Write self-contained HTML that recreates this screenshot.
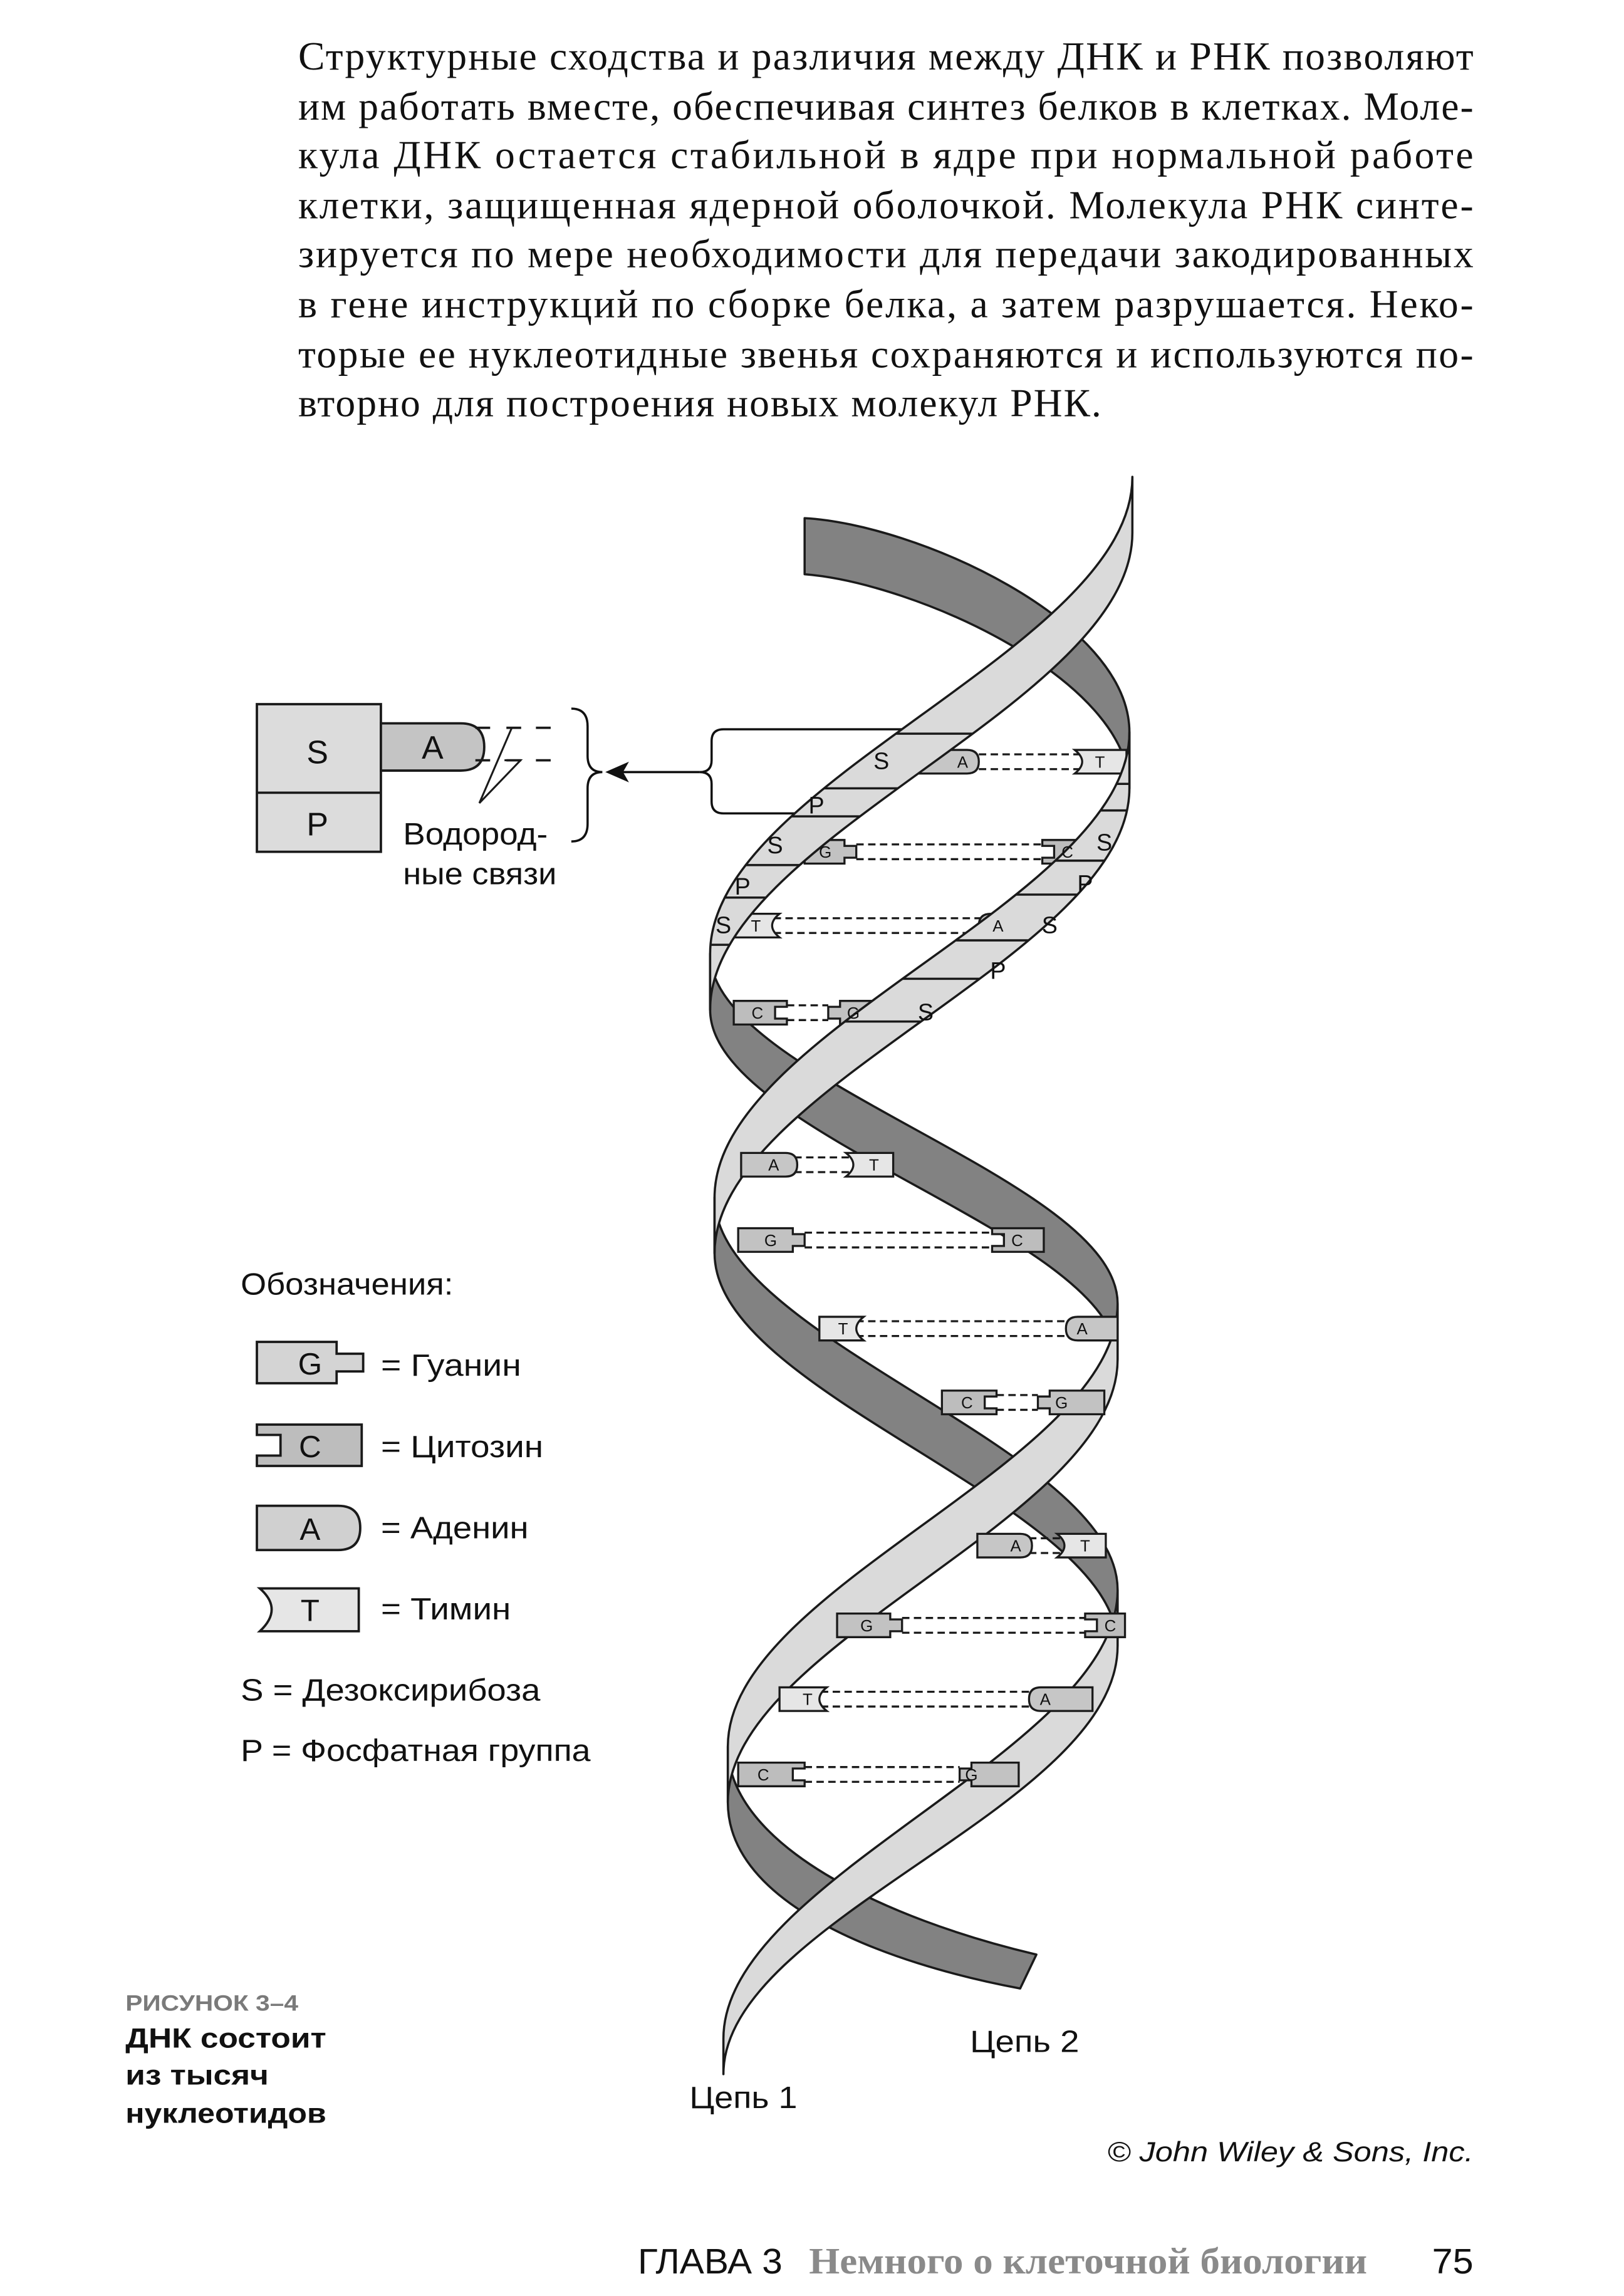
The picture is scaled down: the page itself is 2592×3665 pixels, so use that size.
<!DOCTYPE html>
<html><head><meta charset="utf-8"><style>
html,body{margin:0;padding:0;background:#fff}
svg{display:block}
.s{font-family:"Liberation Sans",sans-serif;fill:#111}
.sr{font-family:"Liberation Serif",serif;fill:#111}
</style></head><body>
<svg width="2592" height="3665" viewBox="0 0 1100 1555.3" preserveAspectRatio="none" xmlns="http://www.w3.org/2000/svg">
<rect width="1100" height="1556" fill="#fff"/>
<g class="sr" font-size="27">
<text x="202" y="47" textLength="796" lengthAdjust="spacing">Структурные сходства и различия между ДНК и РНК позволяют</text>
<text x="202" y="81" textLength="796" lengthAdjust="spacing">им работать вместе, обеспечивая синтез белков в клетках. Моле-</text>
<text x="202" y="114" textLength="796" lengthAdjust="spacing">кула ДНК остается стабильной в ядре при нормальной работе</text>
<text x="202" y="148" textLength="796" lengthAdjust="spacing">клетки, защищенная ядерной оболочкой. Молекула РНК синте-</text>
<text x="202" y="181" textLength="796" lengthAdjust="spacing">зируется по мере необходимости для передачи закодированных</text>
<text x="202" y="215" textLength="796" lengthAdjust="spacing">в гене инструкций по сборке белка, а затем разрушается. Неко-</text>
<text x="202" y="249" textLength="796" lengthAdjust="spacing">торые ее нуклеотидные звенья сохраняются и используются по-</text>
<text x="202" y="282" textLength="544" lengthAdjust="spacing">вторно для построения новых молекул РНК.</text>
</g>

<defs>
<clipPath id="cy1"><path d="M767,323 C767,439 481,530 481,646 L481,684 C481,568 767,477 767,361 Z"/></clipPath>
<clipPath id="cx1"><path d="M765,496 C765,609 484,698 484,811 L484,849 C484,736 765,647 765,534 Z"/></clipPath>
</defs>

<g fill="none" stroke="#111" stroke-width="1.5">
<path d="M640,494 H490 Q482,494 482,502 V515 Q482,523 474,523 Q482,523 482,531 V543 Q482,551 490,551 H560"/>
<line x1="474" y1="523" x2="412" y2="523"/>
<path d="M387,480 Q398,480 398,492 V512 Q398,523 408,523 Q398,523 398,534 V558 Q398,570 387,570"/>
</g>
<polygon points="410,523 426,516 422,523 426,530" fill="#111"/>

<g fill="#828282" stroke="#1a1a1a" stroke-width="1.5" stroke-linejoin="round">
<path d="M545,351 C620,355 765,420 765,496 L765,534 C765,460 620,395 545,389 Z"/>
<path d="M481,646 C481,731 757,798 757,883 L757,921 C757,836 481,769 481,684 Z"/>
<path d="M484,811 C484,907 757,981 757,1077 L757,1115 C757,1019 484,945 484,849 Z"/>
<path d="M493,1183 C493,1250 600,1300 702,1324 L691,1347 C600,1330 493,1290 493,1221 Z"/>
</g>

<!-- base pairs 1-4 (under light band) -->
<g stroke="#1a1a1a" stroke-width="1.4">
<g fill="none" stroke-dasharray="5,3">
<path d="M663,511 H735 M663,521 H735"/>
<path d="M580,572 H714 M580,582 H714"/>
<path d="M524,622 H667 M524,632 H667"/>
<path d="M525,681 H561 M525,691 H561"/>
</g>
<path fill="#c6c6c6" d="M620,508 H655 Q663,508 663,516 Q663,524 655,524 H620 Z"/>
<path fill="#e6e6e6" d="M728,508 H763 V524 H728 Q738,516 728,508 Z"/>
<path fill="#c2c2c2" d="M545,569 H572 V573 H580 V581 H572 V585 H545 Z"/>
<path fill="#bdbdbd" d="M706,569 H740 V585 H706 V581 H714 V573 H706 Z"/>
<path fill="#e6e6e6" d="M528,619 H498 V635 H528 Q518,627 528,619 Z"/>
<path fill="#c6c6c6" d="M697,619 H671 Q663,619 663,627 Q663,635 671,635 H697 Z"/>
<path fill="#bdbdbd" d="M533,678 H497 V694 H533 V690 H525 V682 H533 Z"/>
<path fill="#c2c2c2" d="M597,678 H569 V682 H561 V690 H569 V694 H597 Z"/>
</g>

<g fill="#dadada" stroke="#1a1a1a" stroke-width="1.5" stroke-linejoin="round">
<path d="M767,323 C767,439 481,530 481,646 L481,684 C481,568 767,477 767,361 Z"/>
<path d="M765,496 C765,609 484,698 484,811 L484,849 C484,736 765,647 765,534 Z"/>
<path d="M757,883 C757,991 493,1075 493,1183 L493,1221 C493,1113 757,1029 757,921 Z"/>
<path d="M757,1077 C757,1186 490,1272 490,1381 L490,1405 C490,1300 757,1224 757,1115 Z"/>
</g>
<g stroke="#1a1a1a" stroke-width="1.5">
<g clip-path="url(#cy1)"><path d="M400,497 H800 M400,534 H800 M400,553 H800 M400,586 H800 M400,608 H800 M400,640 H800"/></g>
<g clip-path="url(#cx1)"><path d="M400,531 H800 M400,549 H800 M400,583 H800 M400,606 H800 M400,637 H800 M400,663 H800 M400,692 H800"/></g>
</g>

<!-- base pairs 5-12 (on top) -->
<g stroke="#1a1a1a" stroke-width="1.4">
<g fill="none" stroke-dasharray="5,3">
<path d="M538,784 H580 M538,794 H580"/>
<path d="M545,835 H680 M545,845 H680"/>
<path d="M580,895 H726 M580,905 H726"/>
<path d="M667,945 H703 M667,955 H703"/>
<path d="M697,1042 H722 M697,1052 H722"/>
<path d="M611,1096 H743 M611,1106 H743"/>
<path d="M556,1146 H701 M556,1156 H701"/>
<path d="M537,1197 H650 M537,1207 H650"/>
</g>
<path fill="#c6c6c6" d="M502,781 H532 Q540,781 540,789 Q540,797 532,797 H502 Z"/>
<path fill="#e6e6e6" d="M573,781 H605 V797 H573 Q583,789 573,781 Z"/>
<path fill="#c2c2c2" d="M500,832 H537 V836 H545 V844 H537 V848 H500 Z"/>
<path fill="#bdbdbd" d="M672,832 H707 V848 H672 V844 H680 V836 H672 Z"/>
<path fill="#e6e6e6" d="M585,892 H555 V908 H585 Q575,900 585,892 Z"/>
<path fill="#c6c6c6" d="M757,892 H730 Q722,892 722,900 Q722,908 730,908 H757 Z"/>
<path fill="#bdbdbd" d="M675,942 H638 V958 H675 V954 H667 V946 H675 Z"/>
<path fill="#c2c2c2" d="M748,942 H711 V946 H703 V954 H711 V958 H748 Z"/>
<path fill="#c6c6c6" d="M662,1039 H691 Q699,1039 699,1047 Q699,1055 691,1055 H662 Z"/>
<path fill="#e6e6e6" d="M716,1039 H749 V1055 H716 Q726,1047 716,1039 Z"/>
<path fill="#c2c2c2" d="M567,1093 H603 V1097 H611 V1105 H603 V1109 H567 Z"/>
<path fill="#bdbdbd" d="M735,1093 H762 V1109 H735 V1105 H743 V1097 H735 Z"/>
<path fill="#e6e6e6" d="M560,1143 H528 V1159 H560 Q550,1151 560,1143 Z"/>
<path fill="#c6c6c6" d="M740,1143 H705 Q697,1143 697,1151 Q697,1159 705,1159 H740 Z"/>
<path fill="#bdbdbd" d="M545,1194 H500 V1210 H545 V1206 H537 V1198 H545 Z"/>
<path fill="#c2c2c2" d="M690,1194 H658 V1198 H650 V1206 H658 V1210 H690 Z"/>
</g>

<g class="s" font-size="16" text-anchor="middle">
<text x="597" y="521">S</text><text x="553" y="551">P</text><text x="525" y="578">S</text><text x="503" y="606">P</text><text x="490" y="632">S</text>
<text x="748" y="576">S</text><text x="735" y="604">P</text><text x="711" y="632">S</text><text x="676" y="663">P</text><text x="627" y="691">S</text>
</g>
<g class="s" font-size="11" text-anchor="middle">
<text x="652" y="520">A</text><text x="745" y="520">T</text>
<text x="559" y="581">G</text><text x="723" y="581">C</text>
<text x="512" y="631">T</text><text x="676" y="631">A</text>
<text x="513" y="690">C</text><text x="578" y="690">G</text>
<text x="524" y="793">A</text><text x="592" y="793">T</text>
<text x="522" y="844">G</text><text x="689" y="844">C</text>
<text x="571" y="904">T</text><text x="733" y="904">A</text>
<text x="655" y="954">C</text><text x="719" y="954">G</text>
<text x="688" y="1051">A</text><text x="735" y="1051">T</text>
<text x="587" y="1105">G</text><text x="752" y="1105">C</text>
<text x="547" y="1155">T</text><text x="708" y="1155">A</text>
<text x="517" y="1206">C</text><text x="658" y="1206">G</text>
</g>

<g stroke="#1a1a1a" stroke-width="1.6">
<rect x="174" y="477" width="84" height="100" fill="#dcdcdc"/>
<line x1="174" y1="537" x2="258" y2="537"/>
<path fill="#c4c4c4" d="M258,490 H312 Q328,490 328,506 Q328,522 312,522 H258 Z"/>
<path fill="none" d="M322,493 H332 M343,493 H353 M363,493 H373 M322,515 H332 M343,515 H353 M363,515 H373"/>
<path fill="none" stroke-width="1.3" d="M346.5,493.4 L324.7,544 L352.6,515 L341.7,515"/>
</g>
<g class="s" font-size="22" text-anchor="middle">
<text x="215" y="517">S</text><text x="215" y="566">P</text><text x="293" y="514">A</text>
</g>
<g class="s" font-size="21">
<text x="273" y="572" textLength="98" lengthAdjust="spacingAndGlyphs">Водород-</text>
<text x="273" y="599" textLength="104" lengthAdjust="spacingAndGlyphs">ные связи</text>
</g>

<g stroke="#1a1a1a" stroke-width="1.6">
<path fill="#d4d4d4" d="M174,909 H228 V917 H246 V929 H228 V937 H174 Z"/>
<path fill="#bdbdbd" d="M174,965 H245 V993 H174 V986 H190 V972 H174 Z"/>
<path fill="#d0d0d0" d="M174,1020 H229 Q244,1020 244,1035 Q244,1050 229,1050 H174 Z"/>
<path fill="#e6e6e6" d="M176,1076 H243 V1105 H176 Q192,1090 176,1076 Z"/>
</g>
<g class="s" font-size="21" text-anchor="middle">
<text x="210" y="931">G</text><text x="210" y="987">C</text><text x="210" y="1043">A</text><text x="210" y="1098">T</text>
</g>
<g class="s" font-size="21">
<text x="163" y="877" textLength="144" lengthAdjust="spacingAndGlyphs">Обозначения:</text>
<text x="258" y="932" textLength="95" lengthAdjust="spacingAndGlyphs">= Гуанин</text>
<text x="258" y="987" textLength="110" lengthAdjust="spacingAndGlyphs">= Цитозин</text>
<text x="258" y="1042" textLength="100" lengthAdjust="spacingAndGlyphs">= Аденин</text>
<text x="258" y="1097" textLength="88" lengthAdjust="spacingAndGlyphs">= Тимин</text>
<text x="163" y="1152" textLength="203" lengthAdjust="spacingAndGlyphs">S = Дезоксирибоза</text>
<text x="163" y="1193" textLength="237" lengthAdjust="spacingAndGlyphs">P = Фосфатная группа</text>
<text x="657" y="1390" textLength="74" lengthAdjust="spacingAndGlyphs">Цепь 2</text>
<text x="467" y="1428" textLength="73" lengthAdjust="spacingAndGlyphs">Цепь 1</text>
</g>

<g class="s" font-weight="bold">
<text x="85" y="1362" font-size="15" style="fill:#7a7a7a" textLength="117" lengthAdjust="spacingAndGlyphs">РИСУНОК 3–4</text>
<text x="85" y="1387" font-size="19" textLength="136" lengthAdjust="spacingAndGlyphs">ДНК состоит</text>
<text x="85" y="1412" font-size="19" textLength="97" lengthAdjust="spacingAndGlyphs">из тысяч</text>
<text x="85" y="1438" font-size="19" textLength="136" lengthAdjust="spacingAndGlyphs">нуклеотидов</text>
</g>
<text class="s" x="750" y="1464" font-size="19" font-style="italic" textLength="248" lengthAdjust="spacingAndGlyphs">© John Wiley &amp; Sons, Inc.</text>

<text class="s" x="432" y="1540" font-size="24" textLength="98" lengthAdjust="spacingAndGlyphs">ГЛАВА 3</text>
<text class="sr" x="548" y="1540" font-size="25" font-weight="bold" style="fill:#8a8a8a" textLength="378" lengthAdjust="spacingAndGlyphs">Немного о клеточной биологии</text>
<text class="s" x="970" y="1540" font-size="24" textLength="28" lengthAdjust="spacingAndGlyphs">75</text>
</svg>
</body></html>
